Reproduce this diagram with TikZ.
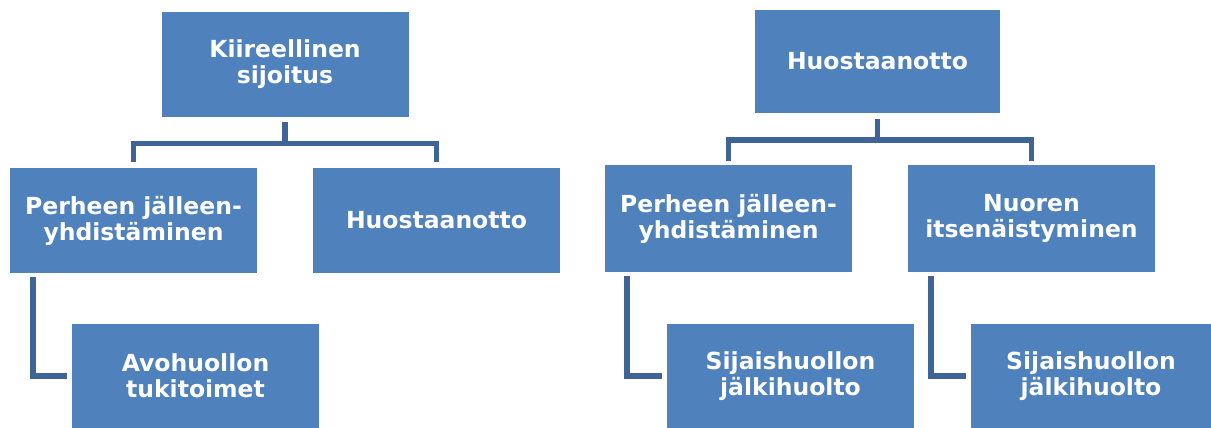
\documentclass[tikz,border=0pt]{standalone}
\usepackage{fontspec}
\setmainfont{DejaVu Sans}
\definecolor{boxblue}{HTML}{4F81BD}
\definecolor{linkblue}{HTML}{3F6598}
\begin{document}
\begin{tikzpicture}[x=1pt,y=-1pt,
  orgbox/.style={fill=boxblue, draw=none, minimum width=247pt, minimum height=105pt, inner sep=0pt,
    text=white, align=center, font=\fontsize{23.5}{26}\selectfont\bfseries},
  conn/.style={draw=linkblue, line width=5.5pt}]
\useasboundingbox (0,0) rectangle (1211,428);
% left tree
\node[orgbox] (k1) at (285,64.5) {Kiireellinen\\sijoitus};
\node[orgbox] (p1) at (133.5,220.5) {Perheen jälleen-\\yhdistäminen};
\node[orgbox] (h1) at (436.5,220.5) {Huostaanotto};
\node[orgbox, minimum height=104pt] (a1) at (195.5,376) {Avohuollon\\tukitoimet};
% right tree
\node[orgbox, minimum width=245pt, minimum height=103pt] (h2) at (877.5,61.5) {Huostaanotto};
\node[orgbox, minimum height=107pt] (p2) at (728.5,218.5) {Perheen jälleen-\\yhdistäminen};
\node[orgbox, minimum height=107pt] (n2) at (1031.5,218.5) {Nuoren\\itsenäistyminen};
\node[orgbox, minimum height=104pt] (s2) at (790.5,376) {Sijaishuollon\\jälkihuolto};
\node[orgbox, minimum width=240pt, minimum height=104pt] (s3) at (1091,376) {Sijaishuollon\\jälkihuolto};
% connectors left
\draw[conn, shorten <=5pt, shorten >=6pt] (k1.south) -- ++(0,26.5) -| (p1.north);
\draw[conn, shorten <=5pt, shorten >=6pt] (k1.south) -- ++(0,26.5) -| (h1.north);
\draw[conn, shorten <=4pt, shorten >=5pt] ([xshift=23pt]p1.south west) |- (a1.west);
% connectors right
\draw[conn, shorten <=6pt, shorten >=4pt] (h2.south) -- ++(0,27) -| (p2.north);
\draw[conn, shorten <=6pt, shorten >=4pt] (h2.south) -- ++(0,27) -| (n2.north);
\draw[conn, shorten <=4pt, shorten >=5pt] ([xshift=22pt]p2.south west) |- (s2.west);
\draw[conn, shorten <=4pt, shorten >=5pt] ([xshift=23pt]n2.south west) |- (s3.west);
\end{tikzpicture}
\end{document}
